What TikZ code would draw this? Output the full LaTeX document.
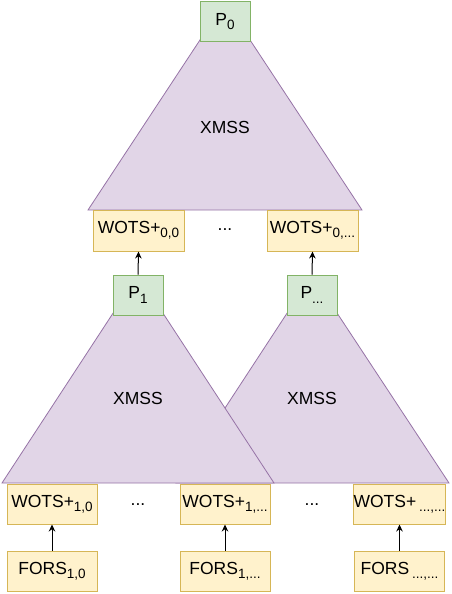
\documentclass[tikz,border=0pt]{standalone}
\usepackage{fontspec}
\setmainfont{Liberation Sans}
\usetikzlibrary{arrows.meta}
\definecolor{gfill}{HTML}{D5E8D4}
\definecolor{gline}{HTML}{82B366}
\definecolor{yfill}{HTML}{FFF2CC}
\definecolor{yline}{HTML}{D6B656}
\definecolor{pfill}{HTML}{E1D5E7}
\definecolor{pline}{HTML}{9673A6}
\newcommand{\sbs}[1]{\raisebox{-4.5pt}{\fontsize{13.5}{14}\selectfont #1}}
\tikzset{
  pkbox/.style={draw=gline, fill=gfill, line width=1pt, minimum width=50pt, minimum height=40pt, inner sep=0pt},
  sigbox/.style={draw=yline, fill=yfill, line width=1pt, minimum width=90pt, minimum height=40pt, inner sep=0pt},
  tree/.style={draw=pline, fill=pfill, line width=0.8pt, line join=miter},
  txt/.style={inner sep=0pt},
  arr/.style={-{Stealth[length=7pt,width=6.5pt]}, line width=1pt, black},
}
\begin{document}
\begin{tikzpicture}[x=1pt,y=-1pt, font=\fontsize{17.5}{20}\selectfont]
\useasboundingbox (0,0) rectangle (452,594);
% top tree
\coordinate (tapex) at (225,2);
\coordinate (tl) at (88,210);
\coordinate (tr) at (362,210);
\draw[tree] (tapex) -- (tl) -- (tr) -- cycle;
\node[txt] (xmss0) at (225,127) {XMSS};
\node[pkbox] (p0) at (225,21.5) {P\sbs{0}};
\node[sigbox, minimum width=91pt, minimum height=41pt] (w00) at (138.5,230.5) {WOTS+\sbs{0,0}};
\node[sigbox, minimum width=91pt, minimum height=41pt] (w0x) at (312.5,230.5) {WOTS+\sbs{0,...}};
\node[txt] (d0) at (225,230) {...};
% lower trees
\coordinate (rapex) at (312,275);
\coordinate (rl) at (176,483);
\coordinate (rr) at (449,483);
\draw[tree] (rapex) -- (rl) -- (rr) -- cycle;
\coordinate (lapex) at (138,275);
\coordinate (ll) at (2,483);
\coordinate (lr) at (274,483);
\draw[tree] (lapex) -- (ll) -- (lr) -- cycle;
\node[txt] (xmss1) at (138,398) {XMSS};
\node[txt] (xmss2) at (312,398) {XMSS};
\node[pkbox] (p1) at (138,295) {P\sbs{1}};
\node[pkbox] (px) at (312,295) {P\sbs{...}};
% bottom row
\node[sigbox] (w10) at (52,504) {WOTS+\sbs{1,0}};
\node[sigbox] (w1x) at (225,504) {WOTS+\sbs{1,...}};
\node[sigbox] (wxx) at (399.5,504) {WOTS+\,\sbs{...,...}};
\node[txt] (d1) at (138,505) {...};
\node[txt] (d2) at (312,505) {...};
\node[sigbox] (f10) at (52,571) {FORS\sbs{1,0}};
\node[sigbox] (f1x) at (225,571) {FORS\sbs{1,...}};
\node[sigbox] (fxx) at (399.5,571) {FORS\,\sbs{...,...}};
% arrows
\draw[arr] (p1.north) -- (w00.south);
\draw[arr] (px.north) -- (w0x.south);
\draw[arr] (f10.north) -- (w10.south);
\draw[arr] (f1x.north) -- (w1x.south);
\draw[arr] (fxx.north) -- (wxx.south);
\end{tikzpicture}
\end{document}
